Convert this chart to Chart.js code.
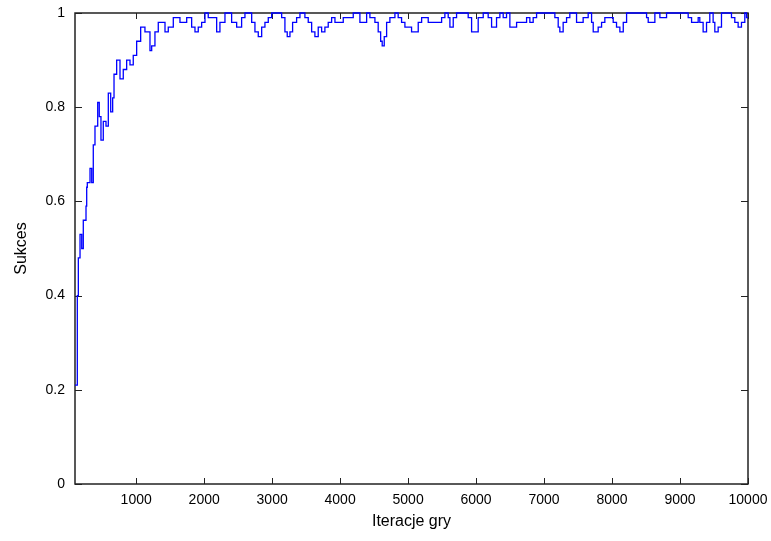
<!DOCTYPE html>
<html lang="pl">
<head>
    <meta charset="UTF-8">
    <title>Sukces - iteracje gry</title>
    <script src="https://cdn.jsdelivr.net/npm/chart.js"></script>
    <style>
        body { margin: 0; background: #fff; }
    </style>
</head>
<body>
    <canvas id="myChart" width="771" height="541"></canvas>

    <script>
        // iteration numbers (x) and success rate (y)
        var iterations = [
            100, 134, 149, 174, 199, 222, 247, 262, 272, 281, 321, 346, 369, 394, 434, 457,
            482, 516, 556, 590, 625, 654, 674, 713, 762, 810, 860, 909, 957, 1007, 1066, 1129,
            1203, 1228, 1276, 1325, 1375, 1424, 1472, 1546, 1596, 1644, 1743, 1816, 1865, 1913,
            1963, 2012, 2060, 2134, 2184, 2232, 2306, 2354, 2404, 2478, 2551, 2600, 2649, 2699,
            2747, 2796, 2846, 2894, 2943, 2993, 3090, 3140, 3188, 3222, 3262, 3301, 3360, 3409,
            3482, 3531, 3581, 3629, 3678, 3728, 3776, 3825, 3875, 3924, 3972, 4046, 4119, 4193,
            4243, 4291, 4340, 4390, 4438, 4512, 4560, 4596, 4619, 4649, 4684, 4732, 4806, 4854,
            4904, 4953, 5001, 5051, 5100, 5149, 5199, 5247, 5296, 5346, 5394, 5443, 5493, 5541,
            5590, 5615, 5664, 5713, 5762, 5835, 5884, 5934, 5982, 6031, 6105, 6178, 6228, 6276,
            6301, 6350, 6399, 6448, 6497, 6546, 6596, 6644, 6693, 6743, 6791, 6840, 6890, 7085,
            7159, 7208, 7232, 7281, 7331, 7379, 7453, 7478, 7526, 7575, 7649, 7699, 7723, 7772,
            7796, 7846, 7894, 7968, 8017, 8066, 8115, 8165, 8214, 8484, 8508, 8532, 8582, 8630,
            8704, 8777, 8802, 9096, 9120, 9170, 9218, 9267, 9291, 9340, 9390, 9438, 9487, 9512,
            9561, 9610, 9732, 9757, 9806, 9855, 9904, 9953, 9978, 10000
        ];
        var success = [
            0.21, 0.40, 0.48, 0.53, 0.50, 0.56, 0.56, 0.59, 0.63, 0.64, 0.67, 0.64, 0.72, 0.76, 0.81, 0.78,
            0.73, 0.77, 0.76, 0.83, 0.79, 0.82, 0.87, 0.90, 0.86, 0.88, 0.90, 0.89, 0.91, 0.94, 0.97, 0.96,
            0.92, 0.93, 0.96, 0.98, 0.98, 0.96, 0.97, 0.99, 0.99, 0.98, 0.99, 0.97, 0.96, 0.97,
            0.98, 1.00, 0.99, 0.99, 0.96, 0.98, 1.00, 1.00, 0.98, 0.97, 0.99, 1.00, 1.00, 0.98,
            0.96, 0.95, 0.97, 0.98, 0.99, 1.00, 1.00, 0.99, 0.96, 0.95, 0.96, 0.98, 0.99, 1.00,
            0.99, 0.98, 0.96, 0.95, 0.97, 0.96, 0.97, 0.98, 0.99, 0.98, 0.98, 0.99, 0.99, 1.00,
            1.00, 0.98, 0.98, 1.00, 0.99, 0.98, 0.96, 0.94, 0.93, 0.95, 0.98, 0.99, 1.00, 0.99,
            0.98, 0.97, 0.97, 0.96, 0.96, 0.98, 0.99, 0.99, 0.98, 0.98, 0.98, 0.98, 0.99, 1.00,
            0.99, 0.97, 0.99, 1.00, 1.00, 1.00, 0.99, 0.96, 0.96, 0.99, 1.00, 0.99, 0.97, 0.97,
            0.99, 1.00, 0.99, 1.00, 0.97, 0.97, 0.98, 0.98, 0.98, 0.99, 0.98, 0.99, 1.00, 1.00,
            0.99, 0.97, 0.96, 0.98, 0.99, 1.00, 1.00, 0.98, 0.98, 0.99, 1.00, 0.98, 0.96, 0.96,
            0.97, 0.98, 0.99, 0.99, 0.98, 0.97, 0.96, 0.98, 1.00, 1.00, 0.99, 0.98, 0.98, 1.00,
            0.99, 0.99, 1.00, 1.00, 0.99, 0.98, 0.98, 0.99, 0.98, 0.96, 0.98, 1.00, 0.98, 0.96,
            0.97, 1.00, 1.00, 0.99, 0.98, 0.97, 0.98, 1.00, 0.99, 0.99
        ];
        var xTicks = [1000, 2000, 3000, 4000, 5000, 6000, 7000, 8000, 9000, 10000];
        var yTicks = [0, 0.2, 0.4, 0.6, 0.8, 1];

        var points = iterations.map(function (it, i) { return { x: it, y: success[i] }; });

        // gnuplot style frame with inward ticks on all four sides
        var frame = {
            id: 'frame',
            beforeDatasetsDraw: function (chart) {
                var c = chart.ctx, a = chart.chartArea;
                var xs = chart.scales.x, ys = chart.scales.y;
                c.save();
                c.strokeStyle = '#222';
                c.lineWidth = 1;
                xTicks.forEach(function (t) {
                    var px = Math.round(xs.getPixelForValue(t)) + 0.5;
                    c.beginPath();
                    c.moveTo(px, a.bottom); c.lineTo(px, a.bottom - 6);
                    c.moveTo(px, a.top); c.lineTo(px, a.top + 6);
                    c.stroke();
                });
                yTicks.forEach(function (t) {
                    var py = Math.round(ys.getPixelForValue(t)) + 0.5;
                    c.beginPath();
                    c.moveTo(a.left, py); c.lineTo(a.left + 7, py);
                    c.moveTo(a.right, py); c.lineTo(a.right - 7, py);
                    c.stroke();
                });
                c.lineWidth = 1.5;
                c.strokeRect(a.left, a.top, a.right - a.left, a.bottom - a.top);
                c.restore();
            }
        };

        var ctx = document.getElementById('myChart').getContext('2d');
        var myChart = new Chart(ctx, {
            type: 'line',
            data: {
                datasets: [{
                    data: points,
                    borderColor: '#0000ff',
                    borderWidth: 1.3,
                    pointRadius: 0,
                    stepped: true,
                    fill: false,
                    clip: 3
                }]
            },
            options: {
                responsive: false,
                animation: false,
                layout: { padding: { top: 13, right: 23, left: 0, bottom: 0 } },
                plugins: { legend: { display: false }, tooltip: { enabled: false } },
                scales: {
                    x: {
                        type: 'linear',
                        min: 100,
                        max: 10000,
                        afterBuildTicks: function (s) { s.ticks = xTicks.map(function (v) { return { value: v }; }); },
                        afterFit: function (s) { s.height = 57; s.paddingLeft = 0; s.paddingRight = 0; },
                        grid: { display: false, drawTicks: false },
                        border: { display: false },
                        ticks: {
                            color: '#000',
                            padding: 8,
                            maxRotation: 0,
                            font: { family: 'Liberation Sans', size: 14 },
                            callback: function (v) { return String(v); }
                        },
                        title: {
                            display: true,
                            text: 'Iteracje gry',
                            color: '#000',
                            padding: { top: 0, bottom: 10 },
                            font: { family: 'Liberation Sans', size: 16 }
                        }
                    },
                    y: {
                        min: 0,
                        max: 1,
                        afterBuildTicks: function (s) { s.ticks = yTicks.map(function (v) { return { value: v }; }); },
                        afterFit: function (s) { s.width = 75; s.paddingTop = 0; s.paddingBottom = 0; },
                        grid: { display: false, drawTicks: false },
                        border: { display: false },
                        ticks: {
                            color: '#000',
                            padding: 10,
                            font: { family: 'Liberation Sans', size: 14 },
                            callback: function (v) { return String(Math.round(v * 10) / 10); }
                        },
                        title: {
                            display: true,
                            text: 'Sukces',
                            color: '#000',
                            padding: { top: 12, bottom: 0 },
                            font: { family: 'Liberation Sans', size: 16 }
                        }
                    }
                }
            },
            plugins: [frame]
        });
    </script>
</body>
</html>
